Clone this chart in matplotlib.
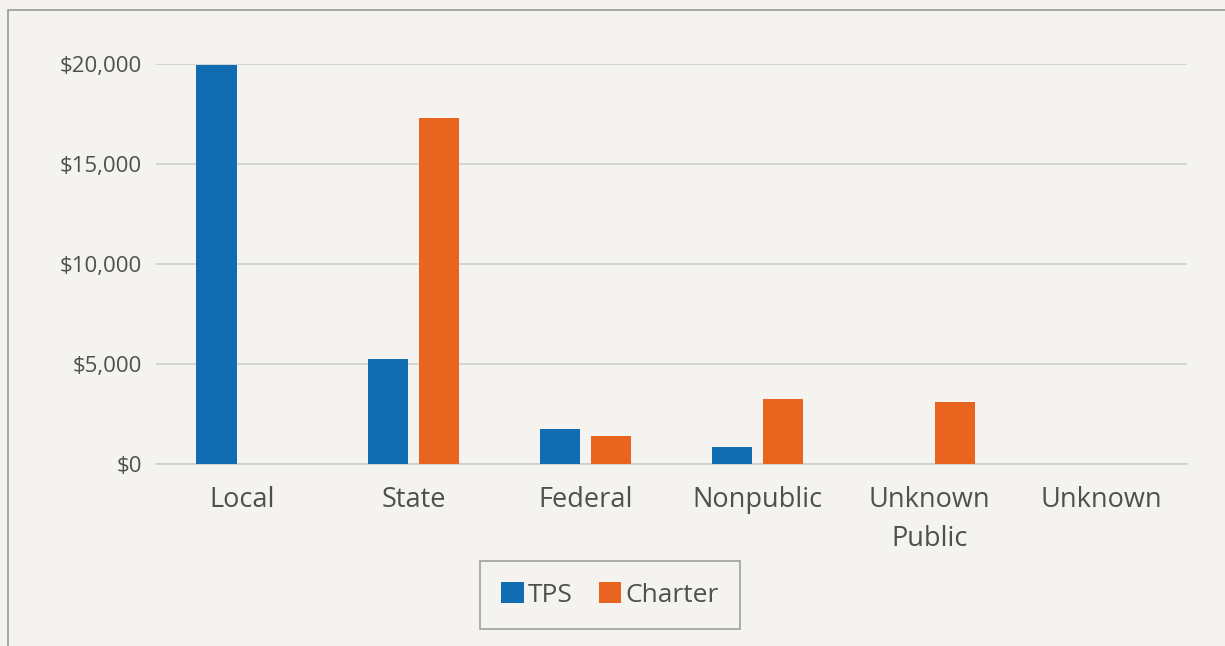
import numpy as np
import matplotlib.pyplot as plt
from matplotlib.patches import Rectangle

categories = ["Local", "State", "Federal", "Nonpublic", "Unknown\nPublic", "Unknown"]
tps = [19950, 5250, 1750, 850, 0, 0]
charter = [0, 17300, 1420, 3230, 3100, 0]
yticks = [0, 5000, 10000, 15000, 20000]

blue = "#106db2"
orange = "#e8641f"
text_col = "#4f4f4f"
bg = "#f4f3ef"

plt.rcParams['font.family'] = ['Open Sans', 'DejaVu Sans']

fig = plt.figure(figsize=(12.25, 6.46), dpi=100)
fig.patch.set_facecolor(bg)

# frame around the chart area
fig.patches.append(Rectangle((8 / 1225, -0.02), 1.1, 1 - 10 / 646 + 0.02,
                             transform=fig.transFigure, fill=False,
                             edgecolor="#9a9a9a", linewidth=1.2))

ax = fig.add_axes([156 / 1225, 1 - 464 / 646, 1031 / 1225, 400 / 646])
ax.set_facecolor("none")

x = np.arange(len(categories))
w = 0.233
off = 0.148
ax.bar(x - off, tps, w, color=blue, label="TPS", zorder=3)
ax.bar(x + off, charter, w, color=orange, label="Charter", zorder=3)

ax.set_xlim(-0.5, len(categories) - 0.5)
ax.set_ylim(0, 20000)
ax.set_yticks(yticks)
ax.set_yticklabels(["${:,}".format(v) for v in yticks], fontsize=16, color=text_col)
ax.set_xticks(x)
ax.set_xticklabels(categories, fontsize=19.5, color=text_col, linespacing=1.5)
ax.tick_params(length=0)
ax.tick_params(axis="y", pad=10)
ax.tick_params(axis="x", pad=16)
ax.grid(axis="y", color="#cfcfcf", linewidth=1.2, zorder=0)
ax.set_axisbelow(True)
for s in ax.spines.values():
    s.set_visible(False)
ax.axhline(0, color="#cfcfcf", linewidth=1.2, zorder=1, clip_on=False)

leg = fig.legend(loc="center", bbox_to_anchor=(610 / 1225, 1 - 595 / 646), ncol=2,
                 fontsize=19, frameon=True, fancybox=False, edgecolor="#8a8a8a",
                 handlelength=0.85, handleheight=0.85, handletextpad=0.15,
                 columnspacing=1.0, borderpad=0.8, borderaxespad=0)
leg.get_frame().set_facecolor("none")
leg.get_frame().set_linewidth(1.2)
for t in leg.get_texts():
    t.set_color(text_col)

fig.savefig("out.png", dpi=100, facecolor=bg)
